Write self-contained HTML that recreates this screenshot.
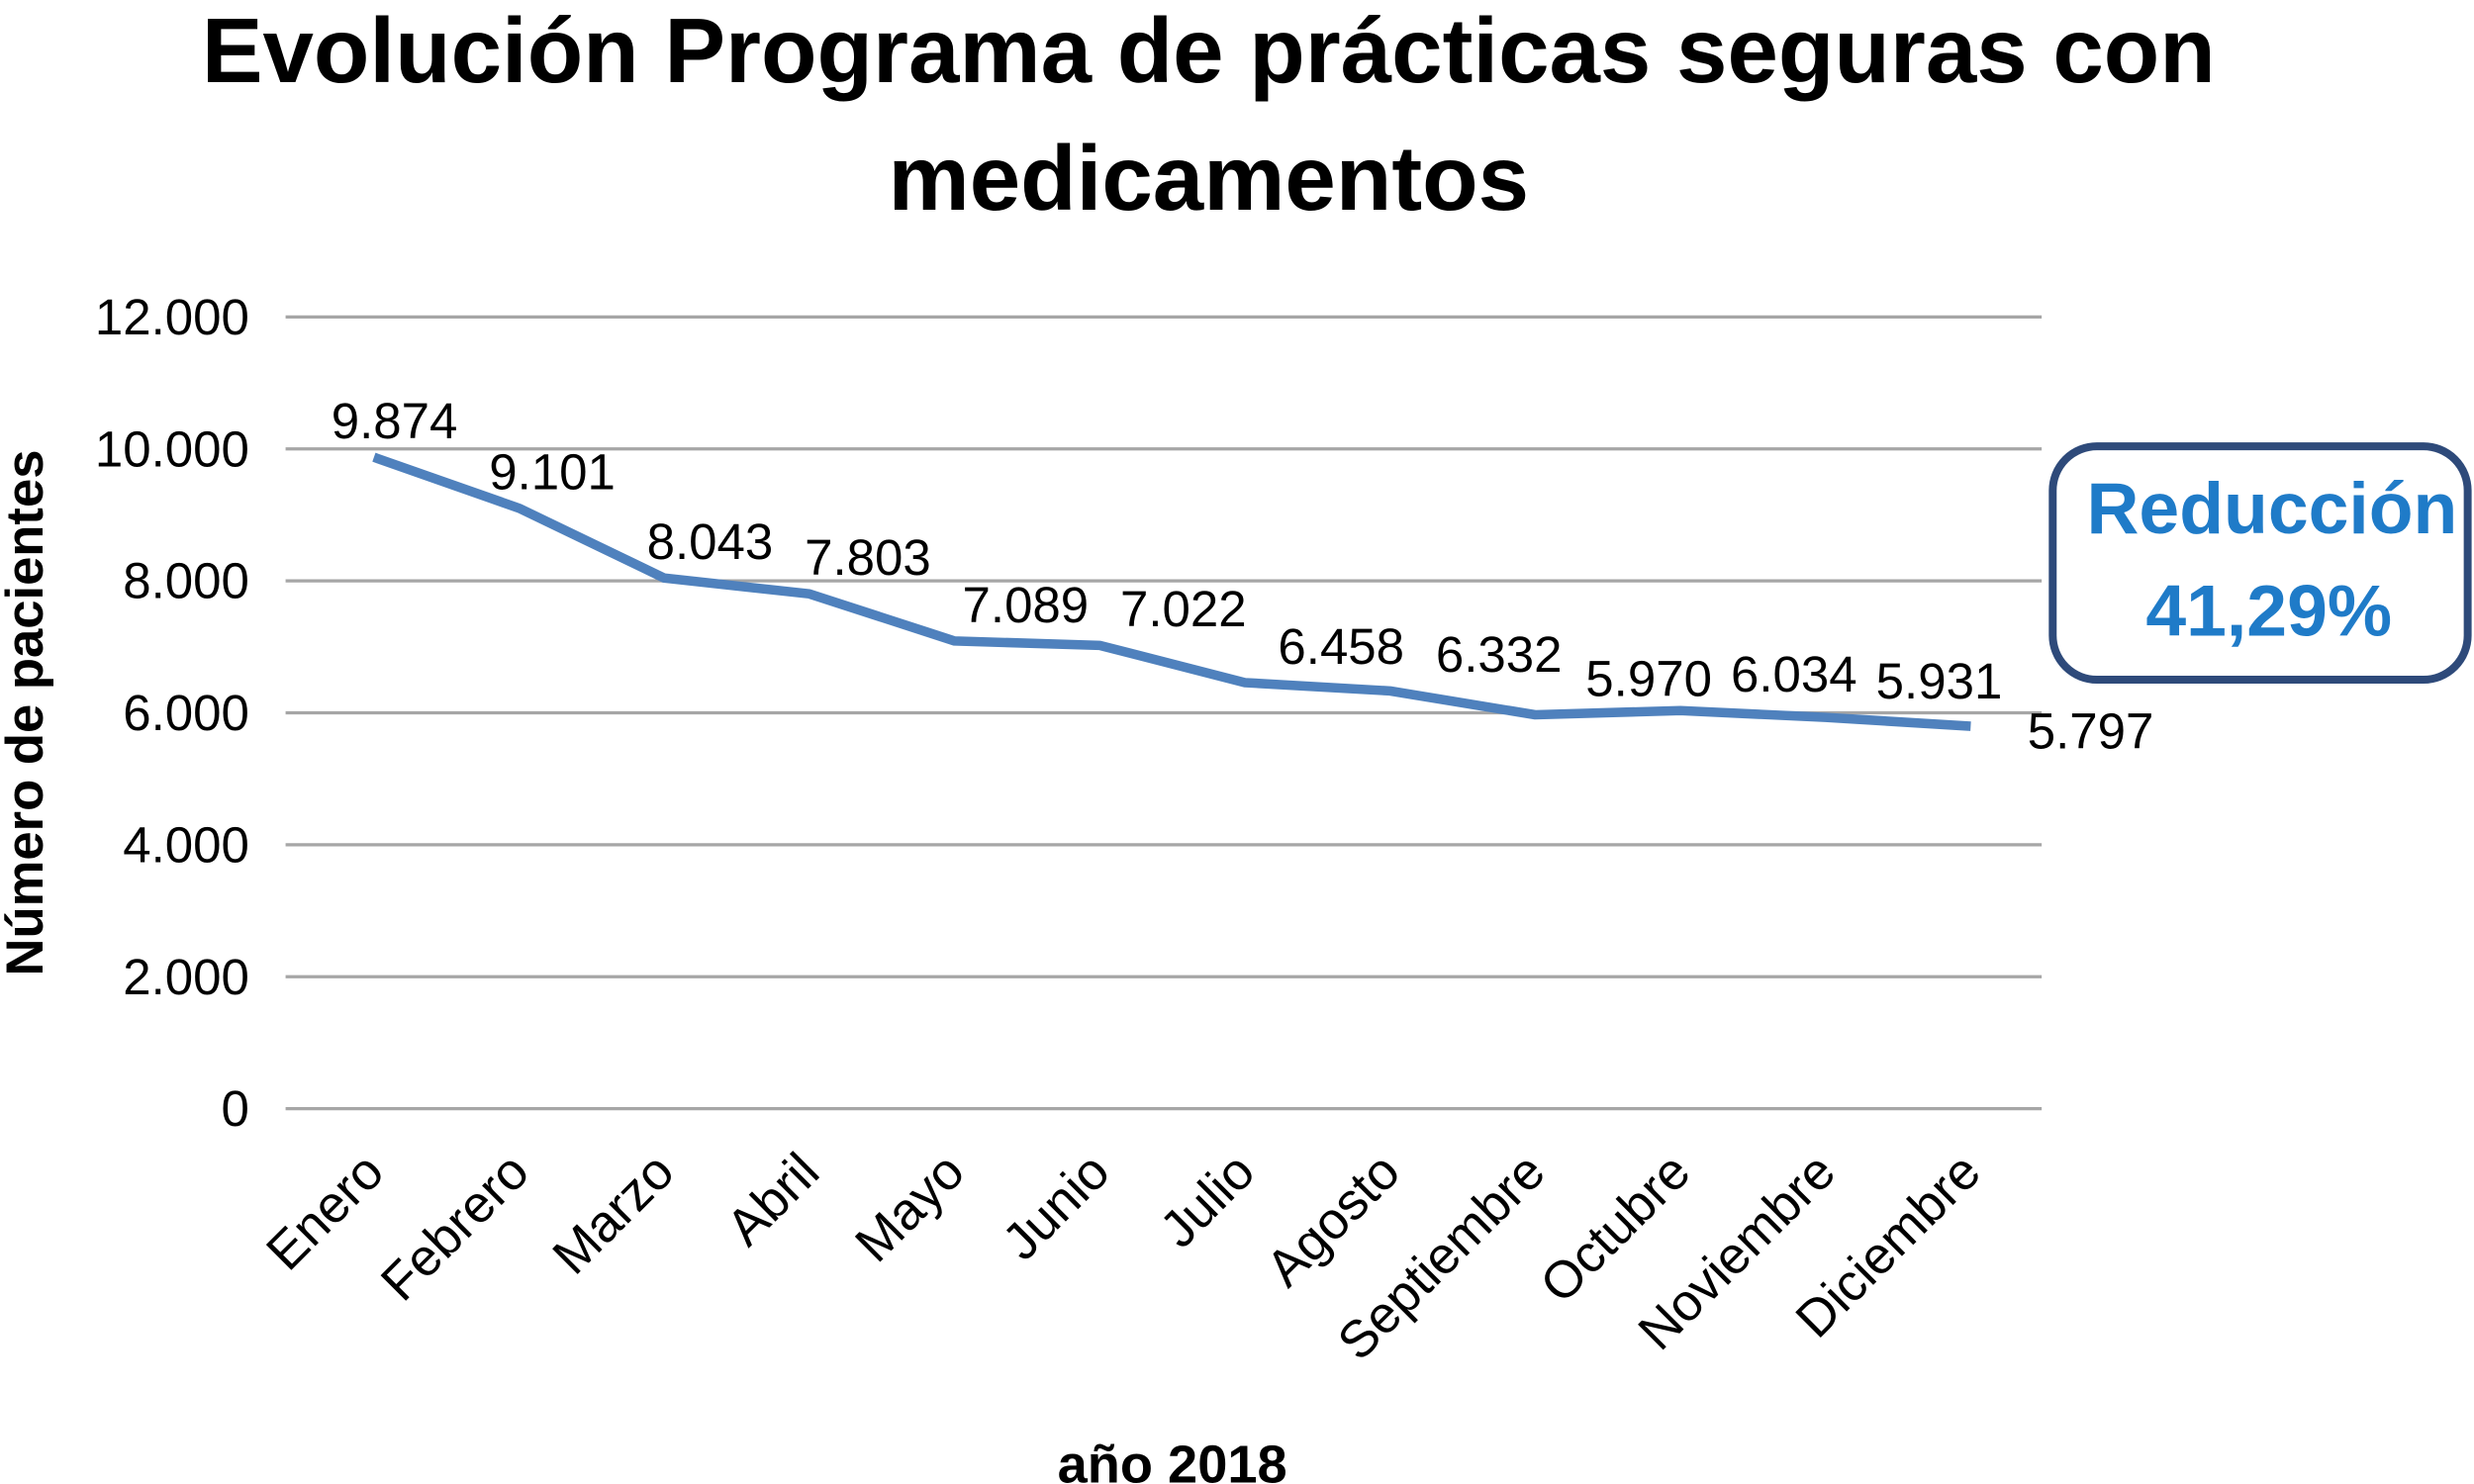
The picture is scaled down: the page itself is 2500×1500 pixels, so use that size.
<!DOCTYPE html>
<html><head><meta charset="utf-8"><style>
html,body{margin:0;padding:0;background:#fff}
svg{display:block}
text{font-family:"Liberation Sans",sans-serif}
</style></head><body>
<svg id="chart" width="2500" height="1500" viewBox="0 0 1568 941" preserveAspectRatio="none" xmlns="http://www.w3.org/2000/svg">
<text x="766" y="52" text-anchor="middle" font-size="58" font-weight="bold">Evolución Programa de prácticas seguras con</text>
<text x="766" y="133" text-anchor="middle" font-size="58" font-weight="bold">medicamentos</text>
<g id="grid"></g><g id="yticks"></g><g id="xticks"></g>
<polyline id="line" fill="none" stroke="#4f81bd" stroke-width="6" stroke-linejoin="round"/>
<g id="labels"></g>
<text transform="translate(27,452) rotate(-90)" text-anchor="middle" font-size="33" font-weight="bold">Número de pacientes</text>
<text x="743" y="940" text-anchor="middle" font-size="34" font-weight="bold">año 2018</text>
<g>
<rect x="1301" y="283" width="263" height="148" rx="28" fill="#fff" stroke="#2e4a7a" stroke-width="5"/>
<text x="1440" y="338" text-anchor="middle" font-size="46" font-weight="bold" fill="#1f7bc8">Reducción</text>
<text x="1438" y="403" text-anchor="middle" font-size="46" font-weight="bold" fill="#1f7bc8">41,29%</text>
</g>
</svg>
<script>
const categories=["Enero","Febrero","Marzo","Abril","Mayo","Junio","Julio","Agosto","Septiembre","Octubre","Noviembre","Diciembre"];
const values=[9874,9101,8043,7803,7089,7022,6458,6332,5970,6034,5931,5797];
const valueLabels=["9.874","9.101","8.043","7.803","7.089","7.022","6.458","6.332","5.970","6.034","5.931","5.797"];
const yTicks=[0,2000,4000,6000,8000,10000,12000];
const yTickLabels=["0","2.000","4.000","6.000","8.000","10.000","12.000"];
const NS="http://www.w3.org/2000/svg";
const X0=181,X1=1294,Y0=703,Y1=201,YMAX=12000;
const step=92;
const xs=i=>X0+56+step*i;
const ys=v=>Y0-(v/YMAX)*(Y0-Y1);
function mk(tag,attrs,parent,txt){const e=document.createElementNS(NS,tag);for(const k in attrs)e.setAttribute(k,attrs[k]);if(txt!==undefined)e.textContent=txt;document.getElementById(parent).appendChild(e);return e;}
yTicks.forEach((t,i)=>{
  const g=mk("line",{x1:X0,x2:X1,y1:ys(t),y2:ys(t),stroke:"#a6a6a6","stroke-width":2},"grid");
  
  
  const l=mk("text",{x:158,y:ys(t)+11,"text-anchor":"end","font-size":32},"yticks",yTickLabels[i]);
  
  
});
categories.forEach((c,i)=>{
  const x=xs(i)+8,y=745;
  const l=mk("text",{x:x,y:y,"text-anchor":"end","font-size":33,transform:`rotate(-45 ${x} ${y})`},"xticks",c);
  
  
});
document.getElementById("line").setAttribute("points",values.map((v,i)=>xs(i)+","+ys(v)).join(" "));
values.forEach((v,i)=>{
  const last=i===values.length-1;
  const dx=last?76:Math.min(13+8*i,72);
  const dy=last?14:-12;
  const l=mk("text",{x:xs(i)+dx,y:ys(v)+dy,"text-anchor":"middle","font-size":32},"labels",valueLabels[i]);
  
  
});
</script>
</body></html>
